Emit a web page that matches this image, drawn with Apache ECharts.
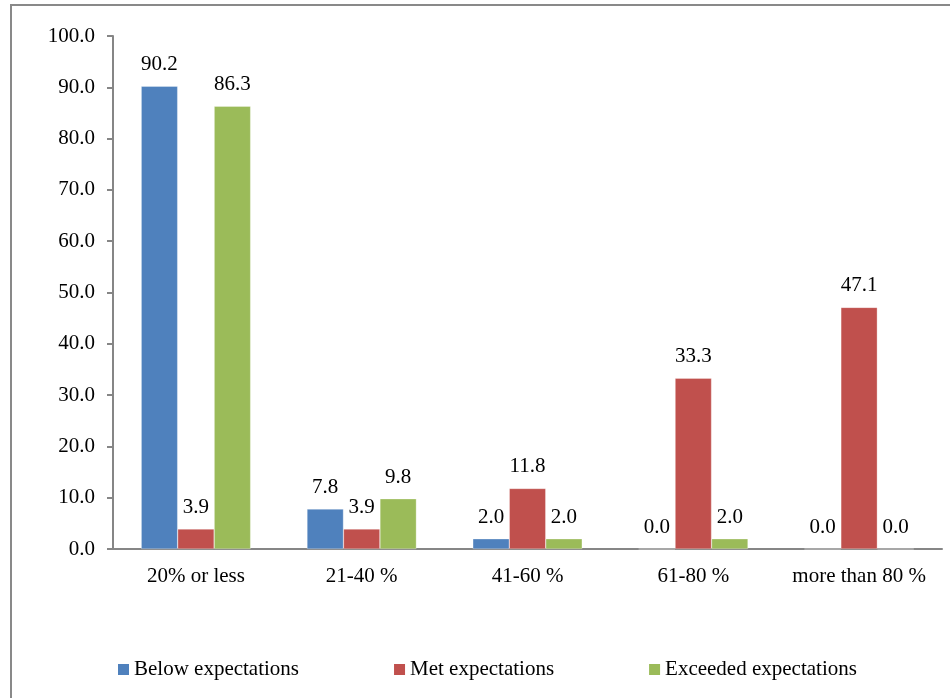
<!DOCTYPE html>
<html><head><meta charset="utf-8">
<script src="https://cdn.jsdelivr.net/npm/echarts@6/dist/echarts.min.js"></script>
<style>html,body{margin:0;padding:0;background:#fff}#c{width:950px;height:698px}</style>
</head><body><div id="c"></div>
<script>
const categories = ['20% or less', '21-40 %', '41-60 %', '61-80 %', 'more than 80 %'];
const belowExpectations = [90.2, 7.8, 2.0, 0.0, 0.0];
const metExpectations = [3.9, 3.9, 11.8, 33.3, 47.1];
const exceededExpectations = [86.3, 9.8, 2.0, 2.0, 0.0];
const seriesNames = ['Below expectations', 'Met expectations', 'Exceeded expectations'];
const colors = ['#4F81BD', '#C0504D', '#9BBB59'];

const font = 'Liberation Serif, Times New Roman, serif';
const fs = 21;
const chart = echarts.init(document.getElementById('c'));
const mk = (name, data, color) => ({
  name, type: 'bar', data, barGap: 0, barCategoryGap: '34%',
  itemStyle: { color, borderColor: 'rgba(255,255,255,0.6)', borderWidth: 0.5 },
  label: { show: true, position: 'top', distance: 11, color: '#000', fontFamily: font, fontSize: fs,
    formatter: p => p.value.toFixed(1) }
});
chart.setOption({
  animation: false,
  textStyle: { fontFamily: font },
  graphic: [{ type: 'rect', shape: { x: 11, y: 5, width: 1000, height: 800 }, style: { fill: 'none', stroke: '#898989', lineWidth: 2 }, silent: true }],
  grid: { left: 113, right: 8, top: 36, bottom: 149 },
  legend: {
    data: seriesNames, left: 118, top: 659, padding: 0, itemWidth: 11, itemHeight: 11, itemGap: 95,
    icon: 'rect', itemStyle: { borderWidth: 0 },
    textStyle: { fontFamily: font, fontSize: fs, color: '#000' }
  },
  xAxis: {
    type: 'category', data: categories,
    axisLine: { lineStyle: { color: '#868686', width: 2 } },
    axisTick: { show: false },
    axisLabel: { color: '#000', fontFamily: font, fontSize: fs, margin: 17, interval: 0 }
  },
  yAxis: {
    type: 'value', min: 0, max: 100, interval: 10,
    axisLine: { show: true, lineStyle: { color: '#868686', width: 2 } },
    axisTick: { show: true, length: 6, lineStyle: { color: '#868686', width: 2 } },
    splitLine: { show: false },
    axisLabel: { color: '#000', fontFamily: font, fontSize: fs, margin: 18, formatter: v => v.toFixed(1) }
  },
  series: [
    mk(seriesNames[0], belowExpectations, colors[0]),
    mk(seriesNames[1], metExpectations, colors[1]),
    mk(seriesNames[2], exceededExpectations, colors[2])
  ]
});
</script></body></html>
